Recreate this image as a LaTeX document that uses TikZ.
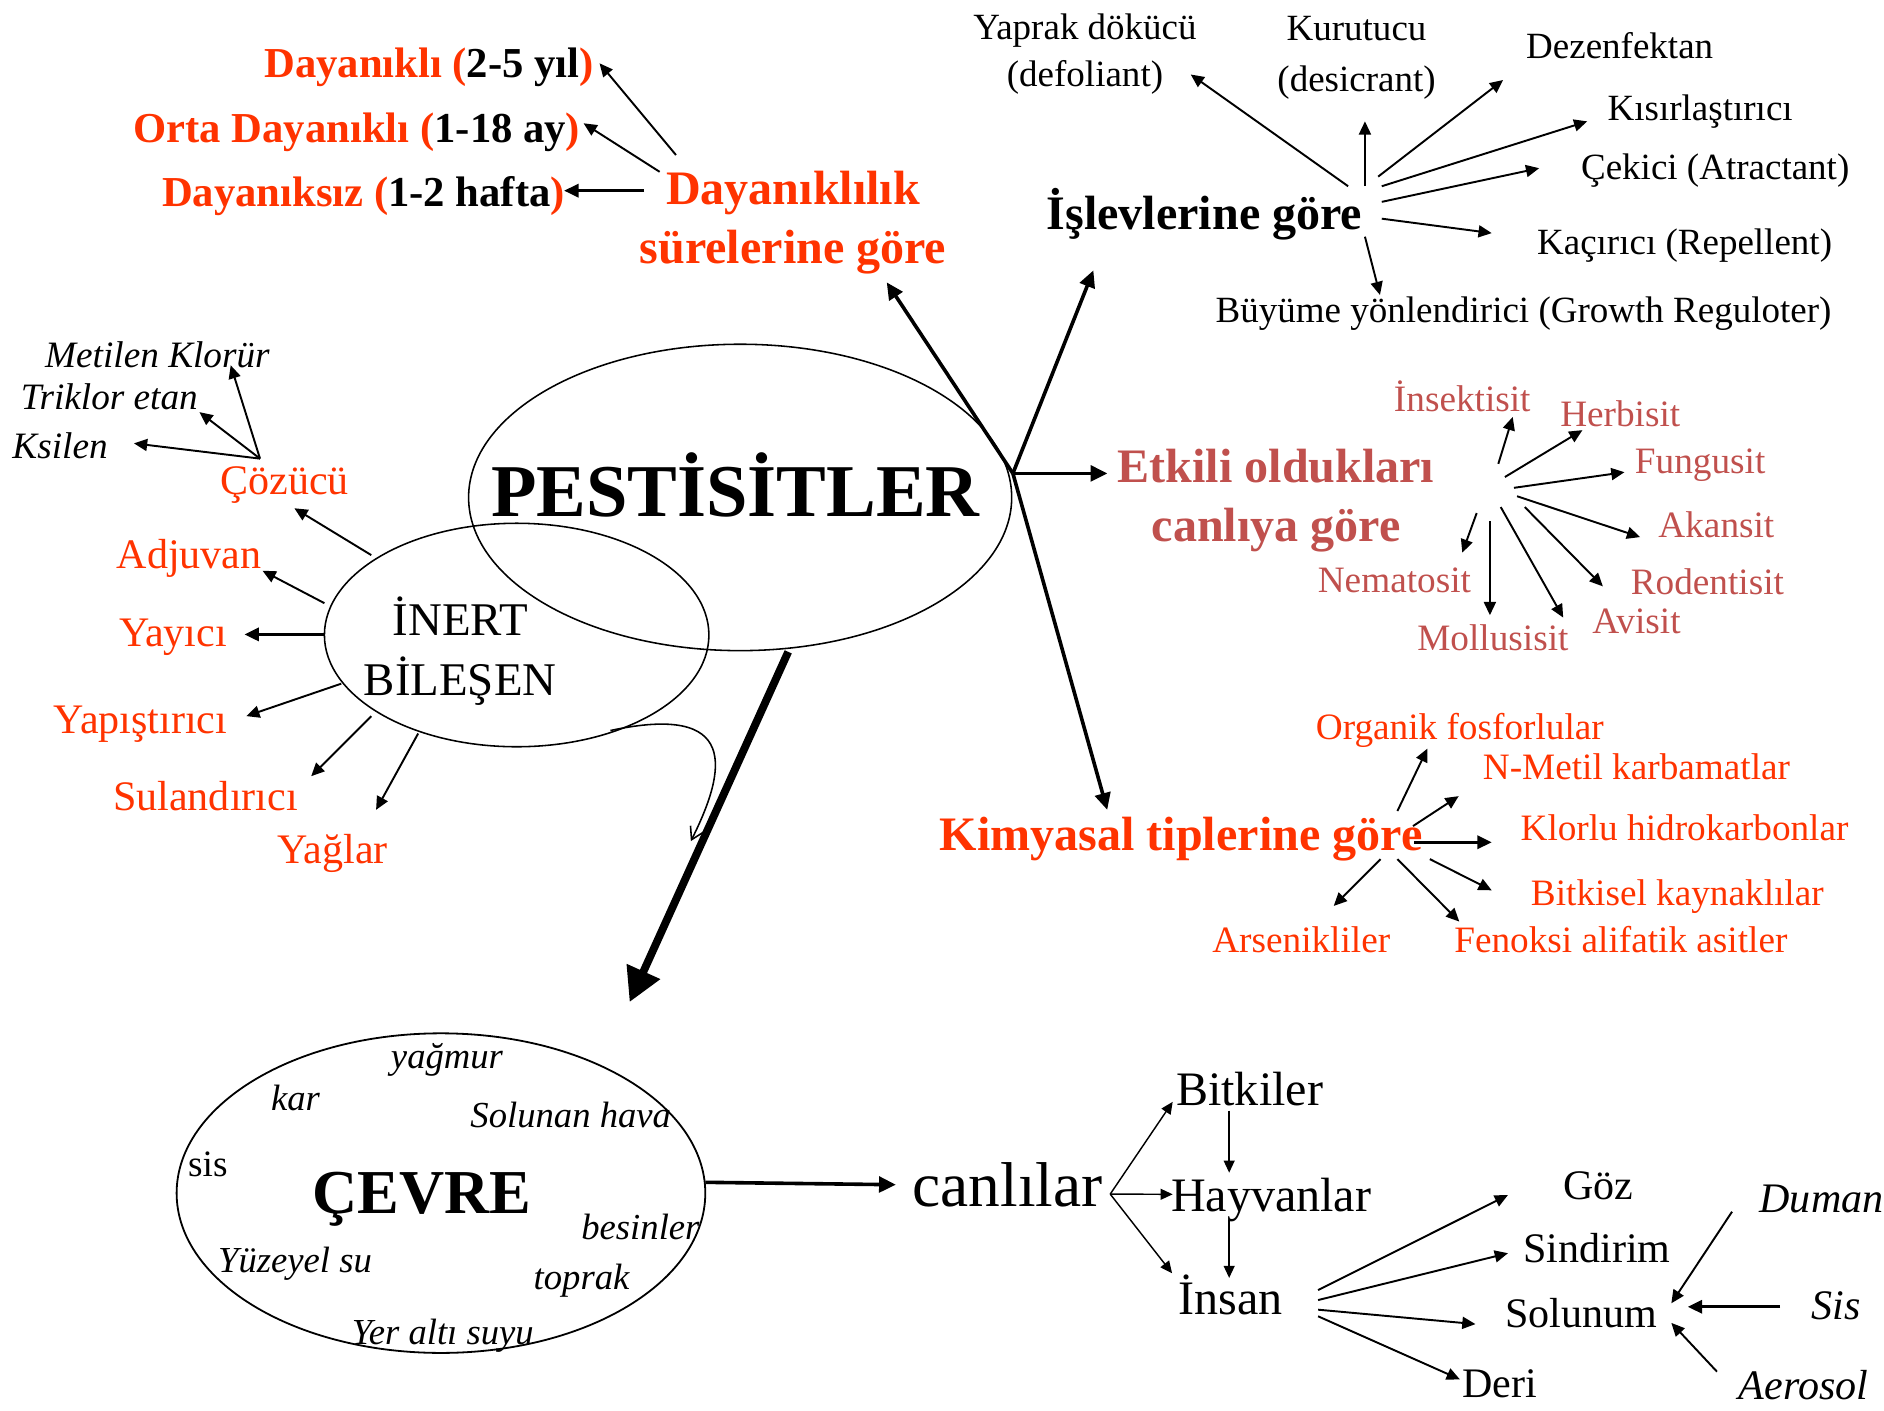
\documentclass[tikz,border=0pt]{standalone}
\usepackage{fontspec}
\setmainfont{Liberation Serif}
\usepackage{tikz}
\usetikzlibrary{arrows.meta,shapes.geometric,calc}
\usepackage{xcolor}
\definecolor{pestred}{RGB}{255,51,0}
\definecolor{pestrose}{RGB}{192,80,77}
\newcommand{\fsz}[2]{\fontsize{#1}{#2}\selectfont}

\begin{document}
\begin{tikzpicture}[x=1pt, y=-1pt,
        every node/.style={inner sep=1pt},
        big/.style={font=\fsz{40}{49}\bfseries, align=center},
        dur/.style={font=\fsz{35.5}{43}\bfseries, text=pestred},
        leaf/.style={font=\fsz{30.8}{38.5}, align=center},
        redleaf/.style={font=\fsz{35}{42}, text=pestred},
        roseleaf/.style={font=\fsz{31}{37}, text=pestrose},
        kimleaf/.style={font=\fsz{31}{37}, text=pestred},
        solvent/.style={font=\fsz{31}{37}\itshape},
        envitem/.style={font=\fsz{30.5}{37}\itshape},
        organ/.style={font=\fsz{40}{48}},
        route/.style={font=\fsz{35}{42}},
        source/.style={font=\fsz{35}{42}\itshape},
        blob/.style={draw, ellipse, line width=1.3pt, inner sep=0pt},
        arr/.style={-{Triangle[length=11pt,width=10pt]}, line width=1.6pt},
        arrthin/.style={-{Triangle[length=10pt,width=9pt]}, line width=1.2pt},
        arrmid/.style={-{Triangle[length=12pt,width=11pt]}, line width=2.4pt},
        arrthick/.style={-{Triangle[length=14pt,width=13pt]}, line width=3pt},
        arrbig/.style={-{Triangle[length=28pt,width=29pt]}, line width=6.5pt},
        arrcurve/.style={-{Straight Barb[length=10pt,width=12pt]}, line width=1.3pt}]
  \useasboundingbox (0,0) rectangle (1568,1174);

  % ana kavram ve inert bilesen
  \node[blob, minimum width=320pt, minimum height=186pt] (inert) at (430,528.5) {};
  \node[blob, minimum width=452pt, minimum height=255pt] (pest) at (616,414) {};
  \node[font=\fsz{62}{70}\bfseries] (pestlbl) at (612,404) {PESTİSİTLER};
  \node[font=\fsz{39}{49.5}, align=center] (inertlbl) at (383,542) {İNERT\\BİLEŞEN};
  \coordinate (fan) at (843,394);

  % dayaniklilik
  \node[dur] (dyl) at (357,56) {Dayanıklı (\textcolor{black}{2-5 yıl})};
  \node[dur] (dort) at (297,110) {Orta Dayanıklı (\textcolor{black}{1-18 ay})};
  \node[dur] (dsiz) at (302.5,163) {Dayanıksız (\textcolor{black}{1-2 hafta})};
  \node[big, text=pestred] (dsure) at (660,185) {Dayanıklılık\\sürelerine göre};
  \draw[arr] ($(dsure)+(-97.4,-56)$) -- ($(dyl)+(142,-3.3)$);
  \draw[arr] ($(dsure)+(-111,-42)$) -- ($(dort)+(188.7,-7.4)$);
  \draw[arrmid] ($(dsure)+(-124,-26.3)$) -- ($(dsiz)+(167,-4.3)$);

  % islevlerine gore
  \node[big] (islev) at (1002.5,178) {İşlevlerine göre};
  \node[leaf] (yaprak) at (903,45) {Yaprak dökücü\\(defoliant)};
  \node[leaf, font=\fsz{30.8}{42}] (kurut) at (1129,48) {Kurutucu\\(desicrant)};
  \node[leaf] (dezen) at (1348,38) {Dezenfektan};
  \node[leaf] (kisir) at (1415,93) {Kısırlaştırıcı};
  \node[leaf] (cekici) at (1427.5,142) {Çekici (Atractant)};
  \node[leaf] (kacir) at (1402,204) {Kaçırıcı (Repellent)};
  \node[leaf] (buyume) at (1268,261) {Büyüme yönlendirici (Growth Reguloter)};
  \draw[arr] ($(islev)+(119.5,-23)$) -- ($(yaprak)+(88,17)$);
  \draw[arr] ($(islev)+(133.5,-23)$) -- ($(kurut)+(7,53)$);
  \draw[arr] ($(islev)+(144.5,-31)$) -- ($(dezen)+(-97,28.6)$);
  \draw[arr] ($(islev)+(147.5,-23)$) -- ($(kisir)+(-94,8)$);
  \draw[arr] ($(islev)+(147.5,-10)$) -- ($(cekici)+(-146.5,-2)$);
  \draw[arr] ($(islev)+(147.5,4)$) -- ($(kacir)+(-160.5,-10)$);
  \draw[arr] ($(islev)+(133.5,19)$) -- ($(buyume)+(-119.5,-15.5)$);

  % etkili olduklari canliya gore
  \node[big, text=pestrose] (etkili) at (1062,417) {Etkili oldukları\\canlıya göre};
  \node[roseleaf] (insek) at (1217,330) {İnsektisit};
  \node[roseleaf] (herbi) at (1348.5,344) {Herbisit};
  \node[roseleaf] (fungu) at (1415,387) {Fungusit};
  \node[roseleaf] (akans) at (1428.5,437) {Akansit};
  \node[roseleaf] (roden) at (1421,484) {Rodentisit};
  \node[roseleaf] (avisit) at (1362,517) {Avisit};
  \node[roseleaf] (mollu) at (1242.5,530.5) {Mollusisit};
  \node[roseleaf] (nemato) at (1160.5,483) {Nematosit};
  \draw[arr] ($(etkili)+(185,-31)$) -- ($(insek)+(42,17)$);
  \draw[arr] ($(etkili)+(190.5,-20)$) -- ($(herbi)+(-31.5,14)$);
  \draw[arr] ($(etkili)+(198,-11)$) -- ($(fungu)+(-63,6)$);
  \draw[arr] ($(etkili)+(200.6,-4)$) -- ($(akans)+(-63.5,10)$);
  \draw[arr] ($(etkili)+(207,5)$) -- ($(roden)+(-87,4)$);
  \draw[arr] ($(etkili)+(187,5)$) -- ($(avisit)+(-61,-3)$);
  \draw[arr] ($(etkili)+(178,17)$) -- ($(mollu)+(-2.5,-18.5)$);
  \draw[arr] ($(etkili)+(167,10)$) -- ($(nemato)+(56.5,-23)$);

  % kimyasal tiplerine gore
  \node[big, text=pestred] (kimya) at (983,698) {Kimyasal tiplerine göre};
  \node[kimleaf] (organik) at (1215,608) {Organik fosforlular};
  \node[kimleaf] (nmetil) at (1362,638) {N-Metil karbamatlar};
  \node[kimleaf] (klorlu) at (1402,689) {Klorlu hidrokarbonlar};
  \node[kimleaf] (bitkisel) at (1396,746) {Bitkisel kaynaklılar};
  \node[kimleaf] (fenoksi) at (1349,782) {Fenoksi alifatik asitler};
  \node[kimleaf] (arsen) at (1083,782) {Arsenikliler};
  \draw[arr] ($(kimya)+(180,-23)$) -- ($(organik)+(-27,15)$);
  \draw[arr] ($(kimya)+(193,-10.5)$) -- ($(nmetil)+(-148,24.6)$);
  \draw[arrmid] ($(kimya)+(194,3)$) -- ($(klorlu)+(-160.5,12)$);
  \draw[arr] ($(kimya)+(207,17)$) -- ($(bitkisel)+(-154.5,-5)$);
  \draw[arr] ($(kimya)+(180,17)$) -- ($(fenoksi)+(-134.5,-15)$);
  \draw[arr] ($(kimya)+(166,17)$) -- ($(arsen)+(27,-28)$);

  % ana dallar
  \draw[arrthick] (fan) -- ($(dsure)+(78,50)$);
  \draw[arrthick] (fan) -- ($(islev)+(-92.5,47)$);
  \draw[arrthick] (fan) -- ($(etkili)+(-140.3,-23)$);
  \draw[arrthick] (fan) -- ($(kimya)+(-61.5,-24)$);

  % inert bilesen
  \node[redleaf] (cozucu) at (237,403.5) {Çözücü};
  \node[redleaf] (adjuvan) at (157.5,465) {Adjuvan};
  \node[redleaf] (yayici) at (144,530) {Yayıcı};
  \node[redleaf] (yapist) at (117,603) {Yapıştırıcı};
  \node[redleaf] (sulan) at (171,662.6) {Sulandırıcı};
  \node[redleaf] (yaglar) at (277,710) {Yağlar};
  \node[solvent] (metilen) at (131,295) {Metilen Klorür};
  \node[solvent] (triklor) at (91,330) {Triklor etan};
  \node[solvent] (ksilen) at (50,371) {Ksilen};
  \draw[arr] ($(cozucu)+(-20.6,-21.8)$) -- ($(metilen)+(61,9)$);
  \draw[arr] ($(cozucu)+(-20.6,-21.8)$) -- ($(triklor)+(75,13)$);
  \draw[arr] ($(cozucu)+(-20.6,-21.8)$) -- ($(ksilen)+(61.5,-2)$);
  \draw[arr] ($(inert)+(-121,-66.5)$) -- ($(cozucu)+(8,19.5)$);
  \draw[arr] ($(inert)+(-160,-26.5)$) -- ($(adjuvan)+(61,10)$);
  \draw[arrmid] ($(inert)+(-160,-0.5)$) -- ($(yayici)+(59.5,-2)$);
  \draw[arr] ($(inert)+(-146,40.5)$) -- ($(yapist)+(88,-7)$);
  \draw[arr] ($(inert)+(-121,67.5)$) -- ($(sulan)+(88,-16.6)$);
  \draw[arr] ($(inert)+(-82,82)$) -- ($(yaglar)+(36,-36)$);
  \coordinate (join) at (575,700);
  \draw[arrcurve] ($(inert)+(78,79.5)$) .. controls +(107,-23) and +(30,-60) .. (join);

  % cevre
  \node[blob, line width=1.5pt, minimum width=440pt, minimum height=266pt] (cevre) at (367,993) {};
  \node[font=\fsz{52}{60}\bfseries] (cevrelbl) at (351,998) {ÇEVRE};
  \node[envitem] (yagmur) at (372,882) {yağmur};
  \node[envitem] (kar) at (246,914) {kar};
  \node[envitem] (hava) at (475,928) {Solunan hava};
  \node[font=\fsz{31}{37}] (sis) at (173,969) {sis};
  \node[envitem] (besin) at (533,1021) {besinler};
  \node[envitem] (yuzey) at (245.5,1052) {Yüzeyel su};
  \node[envitem] (toprak) at (484,1066) {toprak};
  \node[envitem] (yeralti) at (368.5,1112) {Yer altı suyu};
  \draw[arrbig] ($(pest)+(40,128.5)$) -- ($(cevre)+(157,-159)$);

  % canlilar
  \node[font=\fsz{52.7}{60}] (canli) at (838.6,986) {canlılar};
  \node[organ] (bitki) at (1040,906) {Bitkiler};
  \node[organ] (hayvan) at (1058,999) {Hayvanlar};
  \node[organ] (insan) at (1024,1078) {İnsan};
  \draw[arrthick] ($(cevre)+(220,-9)$) -- ($(canli)+(-93,0)$);
  \draw[arrthin] ($(canli)+(85.4,7.8)$) -- ($(bitki)+(-64,11)$);
  \draw[arrthin] ($(canli)+(85.4,7.8)$) -- ($(hayvan)+(-82,-5)$);
  \draw[arrthin] ($(canli)+(85.4,7.8)$) -- ($(insan)+(-48.5,-18.3)$);
  \draw[arrthin] ($(bitki)+(-17,18.4)$) -- ($(hayvan)+(-35,-23)$);
  \draw[arrthin] ($(hayvan)+(-35,16.4)$) -- ($(insan)+(-1,-14.4)$);

  % maruz kalma yollari
  \node[route] (goz) at (1330,987) {Göz};
  \node[route] (sindirim) at (1329,1039) {Sindirim};
  \node[route] (solunum) at (1316,1093) {Solunum};
  \node[route] (deri) at (1248,1152) {Deri};
  \node[source] (duman) at (1516,998) {Duman};
  \node[source] (sisx) at (1528,1087) {Sis};
  \node[source] (aerosol) at (1501,1153) {Aerosol};
  \draw[arr] ($(insan)+(73,-4.3)$) -- ($(goz)+(-75,7.6)$);
  \draw[arr] ($(insan)+(73,4)$) -- ($(sindirim)+(-74,4)$);
  \draw[arr] ($(insan)+(73,12)$) -- ($(solunum)+(-88,9)$);
  \draw[arr] ($(insan)+(73,17.5)$) -- ($(deri)+(-33,-4)$);
  \draw[arr] ($(duman)+(-74.5,10.5)$) -- ($(solunum)+(75,-8.3)$);
  \draw[arrmid] ($(sisx)+(-46.5,0.6)$) -- ($(solunum)+(88.7,-5.4)$);
  \draw[arr] ($(aerosol)+(-72,-11.4)$) -- ($(solunum)+(75,8)$);
\end{tikzpicture}
\end{document}
